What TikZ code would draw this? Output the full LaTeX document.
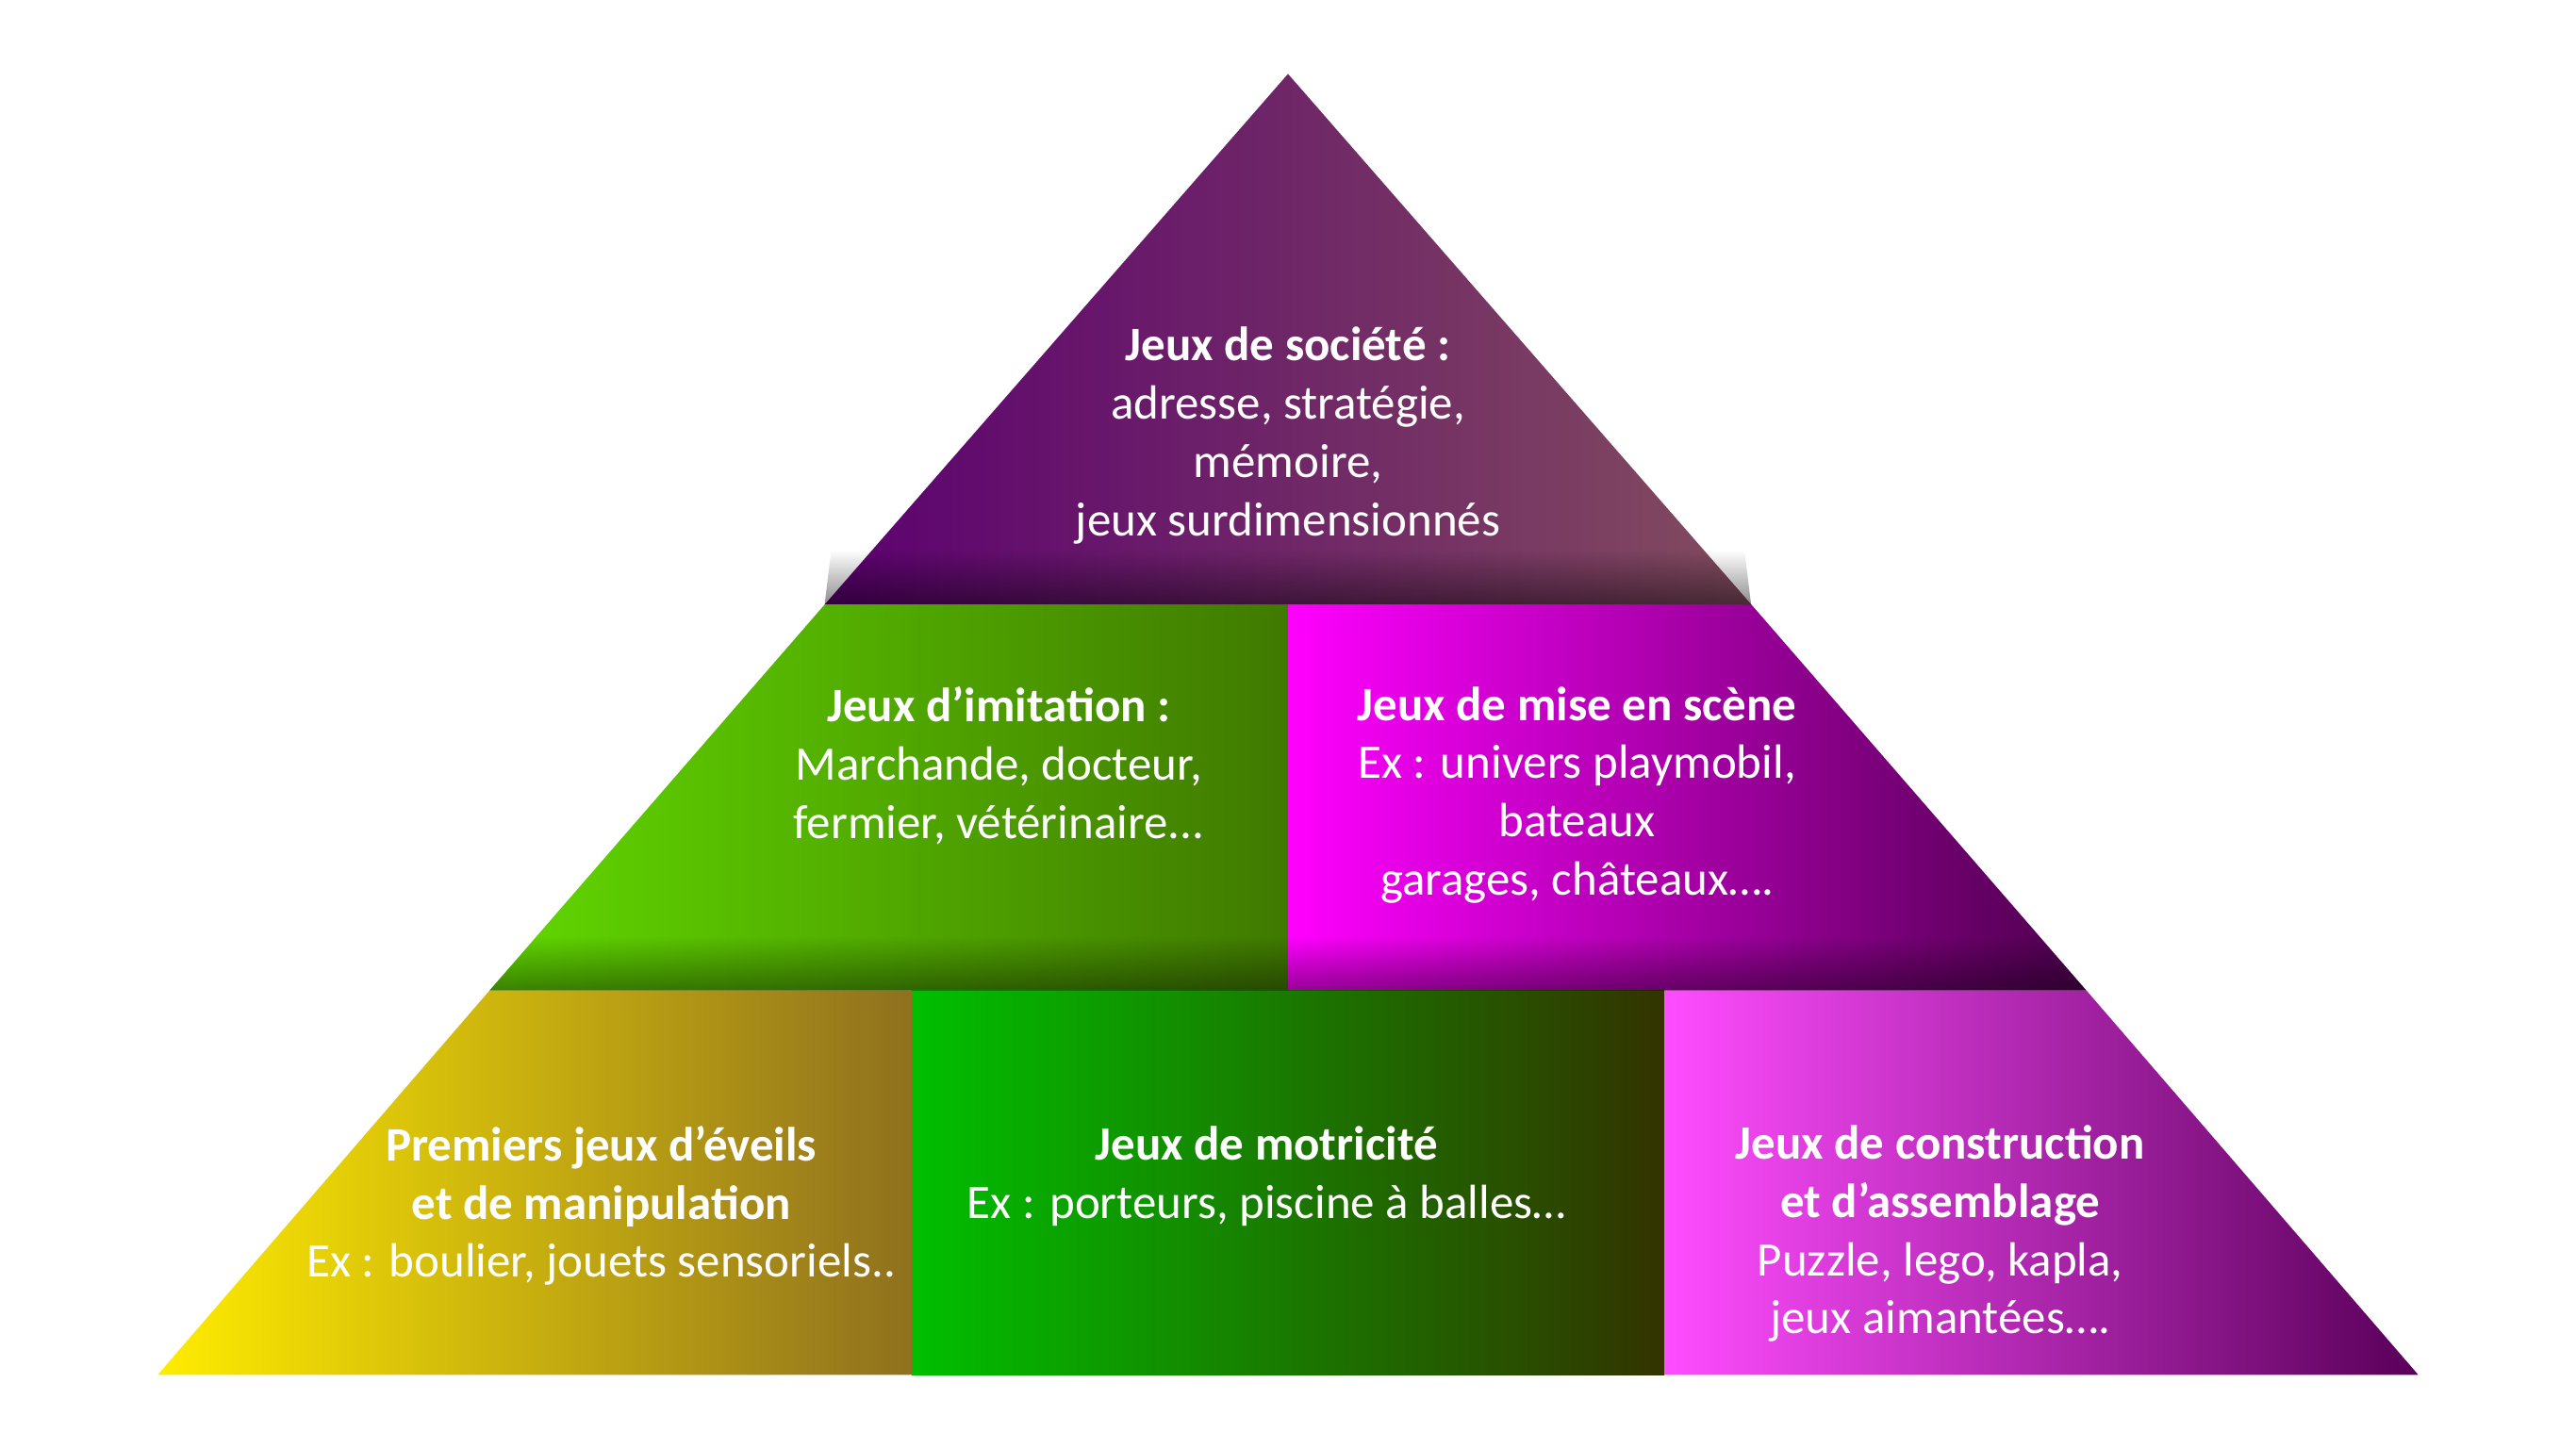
\documentclass[tikz,border=0pt]{standalone}
\usepackage{fontspec}
\setmainfont{Carlito}
\usetikzlibrary{fadings}
\tikzset{lbl/.style={text=white,align=center,font=\fontsize{14.5}{17.6}\selectfont}}
\begin{document}
\begin{tikzpicture}[x=0.01742cm,y=-0.01742cm]
\useasboundingbox[fill=white] (0,0) rectangle (1568,882);
\coordinate (A) at (784,45);
% top
\shade[left color=purple!60!blue!80!black, right color=black!60!purple!70] (A) -- (1066,368) -- (502,368) -- cycle;
% middle
\shade[left color=green!55!yellow!85!black, right color=green!30!black!75!yellow] (502,368) -- (784,368) -- (784,603) -- (298,603) -- cycle;
\shade[left color=magenta!100!red, right color=black!70!magenta] (784,368) -- (1066,368) -- (1270,603) -- (784,603) -- cycle;
% bottom
\shade[left color=yellow!85!orange, right color=brown!60!black!80!yellow] (298,603) -- (555,603) -- (555,837) -- (96,837) -- cycle;
\shade[left color=green!75!black, right color=black!80!yellow] (555,603) -- (1013,603) -- (1013,837) -- (555,837) -- cycle;
\shade[left color=magenta!70!white, right color=violet!70!black] (1013,603) -- (1270,603) -- (1472,837) -- (1013,837) -- cycle;
% dark shadow strips
\fill[black,opacity=0.45,path fading=north] (506,335) -- (1062,335) -- (1066,368) -- (502,368) -- cycle;
\fill[black,opacity=0.4,path fading=north] (327,570) -- (1241,570) -- (1270,603) -- (298,603) -- cycle;
% labels
\node[lbl] (t) at (784,265) {\textbf{Jeux de société :}\\adresse, stratégie,\\mémoire,\\jeux surdimensionnés};
\node[lbl] (ml) at (608,466) {\textbf{Jeux d’imitation :}\\Marchande, docteur,\\fermier, vétérinaire...};
\node[lbl] (mr) at (960,484) {\textbf{Jeux de mise en scène}\\Ex : univers playmobil,\\bateaux\\garages, châteaux….};
\node[lbl] (bl) at (366,734) {\textbf{Premiers jeux d’éveils}\\\textbf{et de manipulation}\\Ex : boulier, jouets sensoriels..};
\node[lbl] (bm) at (771,716) {\textbf{Jeux de motricité}\\Ex : porteurs, piscine à balles…};
\node[lbl] (br) at (1181,751) {\textbf{Jeux de construction}\\\textbf{et d’assemblage}\\Puzzle, lego, kapla,\\jeux aimantées….};
\end{tikzpicture}
\end{document}
